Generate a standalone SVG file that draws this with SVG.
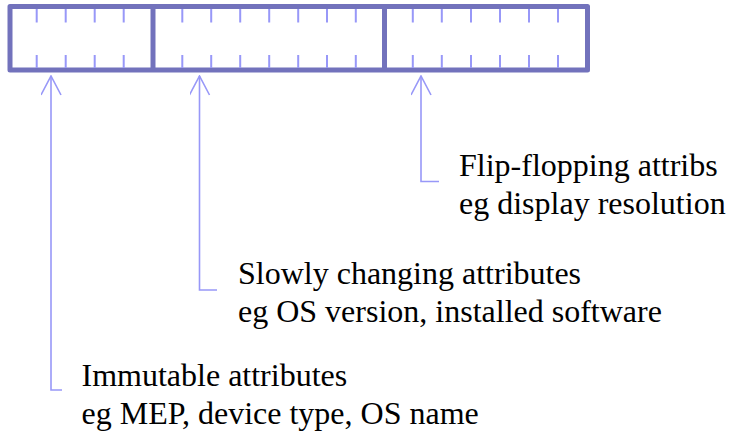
<svg xmlns="http://www.w3.org/2000/svg" width="729" height="431" viewBox="0 0 729 431">
<style>
.box{fill:none;stroke:#7272bc;stroke-width:5;stroke-linejoin:round}
.div{stroke:#7272bc;stroke-width:5}
.tick{stroke:#9898f8;stroke-width:2}
.conn{fill:none;stroke:#9898f8;stroke-width:1.6}
.lbl{font-size:32px;fill:#000}
</style>
<defs>
<marker id="ah" markerWidth="24" markerHeight="24" refX="10" refY="1" orient="0" markerUnits="userSpaceOnUse">
<path d="M0,20 L10,1 L20,20" fill="none" stroke="#9898f8" stroke-width="1.6"/>
</marker>
</defs>
<g id="register">
<rect class="box" x="10" y="6.5" width="577.5" height="63.5"/>
<line class="div" x1="153" y1="6.5" x2="153" y2="70"/>
<line class="div" x1="384.5" y1="6.5" x2="384.5" y2="70"/>
<g class="tick">
<path d="M36.7,9V22.5M36.7,55V68M65.7,9V22.5M65.7,55V68M94.7,9V22.5M94.7,55V68M123.7,9V22.5M123.7,55V68M182.3,9V22.5M182.3,55V68M211.2,9V22.5M211.2,55V68M240.2,9V22.5M240.2,55V68M269.2,9V22.5M269.2,55V68M298.2,9V22.5M298.2,55V68M327,9V22.5M327,55V68M355.8,9V22.5M355.8,55V68M412.8,9V22.5M412.8,55V68M441.8,9V22.5M441.8,55V68M471,9V22.5M471,55V68M500,9V22.5M500,55V68M529,9V22.5M529,55V68M558,9V22.5M558,55V68"/>
</g>
</g>
<g id="connectors">
<path class="conn" d="M62,390 H51 V76" marker-end="url(#ah)"/>
<path class="conn" d="M217,290 H199.5 V76" marker-end="url(#ah)"/>
<path class="conn" d="M439,181.5 H421 V76" marker-end="url(#ah)"/>
</g>
<g font-family="Liberation Serif, DejaVu Serif, serif">
<g id="flip">
<text class="lbl" x="459" y="176">Flip-flopping attribs</text>
<text class="lbl" x="459" y="214">eg display resolution</text>
</g>
<g id="slow">
<text class="lbl" x="238" y="284">Slowly changing attributes</text>
<text class="lbl" x="238" y="322">eg OS version, installed software</text>
</g>
<g id="immutable">
<text class="lbl" x="81.5" y="386">Immutable attributes</text>
<text class="lbl" x="81.5" y="424">eg MEP, device type, OS name</text>
</g>
</g>
</svg>
